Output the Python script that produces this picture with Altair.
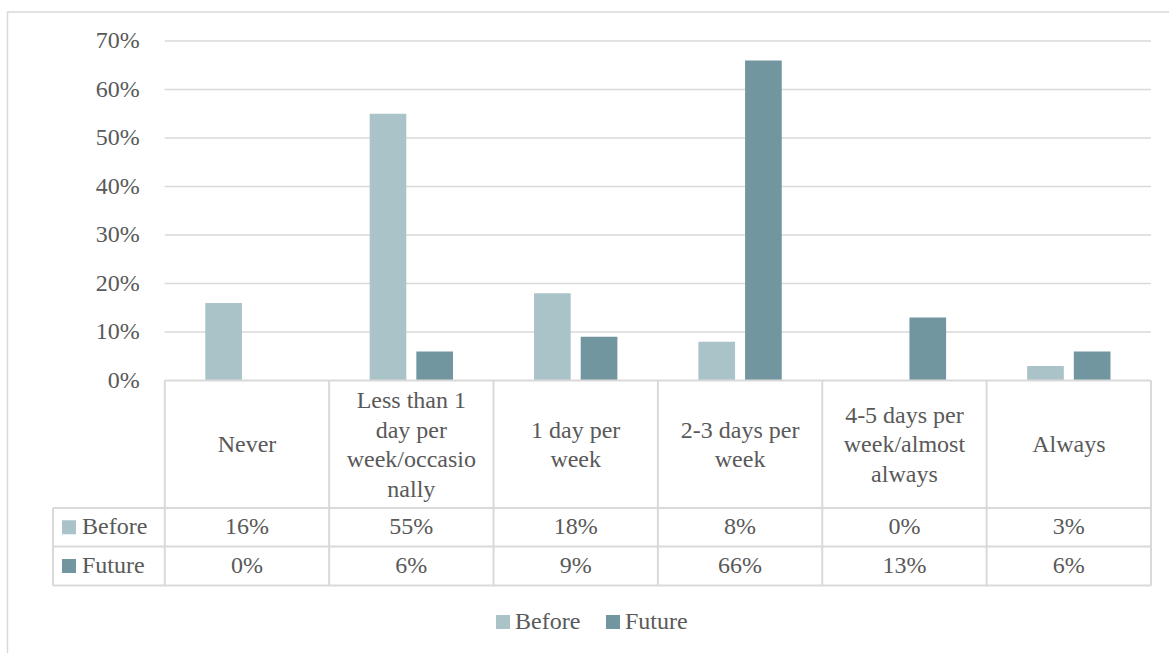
import altair as alt
import pandas as pd

# ---------------- data ----------------
categories = ["Never", "Less than 1 day per week/occasionally", "1 day per week",
              "2-3 days per week", "4-5 days per week/almost always", "Always"]
header_lines = [["Never"],
                ["Less than 1", "day per", "week/occasio", "nally"],
                ["1 day per", "week"],
                ["2-3 days per", "week"],
                ["4-5 days per", "week/almost", "always"],
                ["Always"]]
series = ["Before", "Future"]
before = [0.16, 0.55, 0.18, 0.08, 0.00, 0.03]
future = [0.00, 0.06, 0.09, 0.66, 0.13, 0.06]
y_ticks = [0.0, 0.1, 0.2, 0.3, 0.4, 0.5, 0.6, 0.7]
colors = ["#aac3c9", "#71969f"]

# ---------------- layout constants ----------------
FONT = "Liberation Serif"
TXT = "#595959"
LINE = "#d9d9d9"
W, H = 1098, 545
LEFT_COL = 0.68            # width of row-label column in category units
Y0 = 339.5                 # pixel of 0%
HEADER_BOTTOM = 467.0
ROW_DIV = 505.5
TABLE_BOTTOM = 544.5
ROW_CENTERS = {"Before": (HEADER_BOTTOM + ROW_DIV) / 2, "Future": (ROW_DIV + TABLE_BOTTOM) / 2}
PXU = Y0 / 0.7            # pixels per unit on y
Y_MIN = 0.7 - H / PXU
HEAD_CENTER_VAL = 0.7 - ((Y0 + HEADER_BOTTOM) / 2 + 1) / PXU
LINE_H_VAL = 29.5 / PXU

xs = alt.Scale(domain=[-LEFT_COL, 6], nice=False, zero=False)
ys = alt.Scale(domain=[Y_MIN, 0.7], nice=False, zero=False)

# ---------------- tables ----------------
rows = []
for i, c in enumerate(categories):
    rows.append({"idx": i, "category": c, "series": "Before", "value": before[i]})
    rows.append({"idx": i, "category": c, "series": "Future", "value": future[i]})
bars_df = pd.DataFrame(rows)
hrows = []
for i, lines in enumerate(header_lines):
    for j, ln in enumerate(lines):
        hrows.append({"idx": i, "j": j, "n": len(lines), "line": ln})
head_df = pd.DataFrame(hrows)
tick_df = pd.DataFrame({"t": y_ticks})
bound_df = pd.DataFrame({"b": list(range(len(categories) + 1))})
one = pd.DataFrame({"k": [0]})

# outer frame
frame = alt.Chart(one).mark_rect(fill=None, stroke=LINE, strokeWidth=1.5).encode(
    x=alt.value(-45.5), x2=alt.value(1200), y=alt.value(-29), y2=alt.value(700))

# gridlines
grid = alt.Chart(tick_df).transform_filter("datum.t > 0").mark_rule(
    color=LINE, strokeWidth=1.3).encode(
    x=alt.datum(0, scale=xs, type="quantitative", axis=None),
    x2=alt.datum(6),
    y=alt.Y("t:Q", scale=ys, axis=None))

# y tick labels
ylab = alt.Chart(tick_df).mark_text(
    align="right", baseline="middle", dx=-25, font=FONT, fontSize=24, color=TXT).encode(
    x=alt.datum(0, scale=xs, type="quantitative", axis=None),
    y=alt.Y("t:Q", scale=ys, axis=None),
    text=alt.Text("t:Q", format=".0%"))

# bars
bars = alt.Chart(bars_df).transform_calculate(
    c="datum.idx + (datum.series == 'Before' ? 0.358 : 0.642)",
    x1="datum.c - 0.1115", x2="datum.c + 0.1115").mark_bar().encode(
    x=alt.X("x1:Q", scale=xs, axis=None),
    x2="x2:Q",
    y=alt.Y("value:Q", scale=ys, axis=None),
    y2=alt.datum(0),
    color=alt.Color("series:N", scale=alt.Scale(domain=series, range=colors),
                    legend=alt.Legend(title=None, orient="none", direction="horizontal",
                                      legendX=438, legendY=569,
                                      labelFont=FONT, labelFontSize=24, labelColor=TXT,
                                      symbolType="square", symbolSize=196,
                                      symbolStrokeWidth=0, labelOffset=0,
                                      columnPadding=20)))

# table lines
top_line = alt.Chart(one).mark_rule(color=LINE, strokeWidth=2).encode(
    x=alt.datum(0, scale=xs, type="quantitative", axis=None), x2=alt.datum(6),
    y=alt.value(Y0))
hlines = []
for yy in [HEADER_BOTTOM, ROW_DIV, TABLE_BOTTOM]:
    hlines.append(alt.Chart(one).mark_rule(color=LINE, strokeWidth=2).encode(
        x=alt.datum(6, scale=xs, type="quantitative", axis=None), x2=alt.value(0),
        y=alt.value(yy)))
vlines = alt.Chart(bound_df).mark_rule(color=LINE, strokeWidth=2).encode(
    x=alt.X("b:Q", scale=xs, axis=None), y=alt.value(Y0), y2=alt.value(TABLE_BOTTOM))
left_line = alt.Chart(one).mark_rule(color=LINE, strokeWidth=2).encode(
    x=alt.value(0), y=alt.value(HEADER_BOTTOM), y2=alt.value(TABLE_BOTTOM))

# header text (one row per wrapped line, block centred in the header cell)
head = alt.Chart(head_df).transform_calculate(
    xc="datum.idx + 0.5",
    yv=f"{HEAD_CENTER_VAL} - (datum.j - (datum.n - 1) / 2) * {LINE_H_VAL}").mark_text(
    align="center", baseline="middle", font=FONT, fontSize=24, color=TXT).encode(
    x=alt.X("xc:Q", scale=xs, axis=None),
    y=alt.Y("yv:Q", scale=ys, axis=None),
    text="line:N")

# value cells and row labels
cells = []
for s, col in zip(series, colors):
    yc = ROW_CENTERS[s]
    cells.append(alt.Chart(bars_df).transform_filter(f"datum.series == '{s}'")
                 .transform_calculate(xc="datum.idx + 0.5").mark_text(
        align="center", baseline="middle", font=FONT, fontSize=24, color=TXT).encode(
        x=alt.X("xc:Q", scale=xs, axis=None), y=alt.value(yc),
        text=alt.Text("value:Q", format=".0%")))
    cells.append(alt.Chart(one).mark_square(size=196, opacity=1, color=col).encode(
        x=alt.value(16), y=alt.value(yc)))
    cells.append(alt.Chart(pd.DataFrame({"name": [s]})).mark_text(
        align="left", baseline="middle", font=FONT, fontSize=24, color=TXT).encode(
        x=alt.value(29), y=alt.value(yc), text="name:N"))

chart = alt.layer(frame, grid, ylab, bars, top_line, *hlines, vlines, left_line, head, *cells).properties(
    width=W, height=H,
    autosize=alt.AutoSizeParams(type="none"),
    padding={"left": 53, "top": 41, "right": 18, "bottom": 67},
).configure(background="white").configure_view(stroke=None)

chart.save("out.html", embed_options={"renderer": "svg", "actions": False})
